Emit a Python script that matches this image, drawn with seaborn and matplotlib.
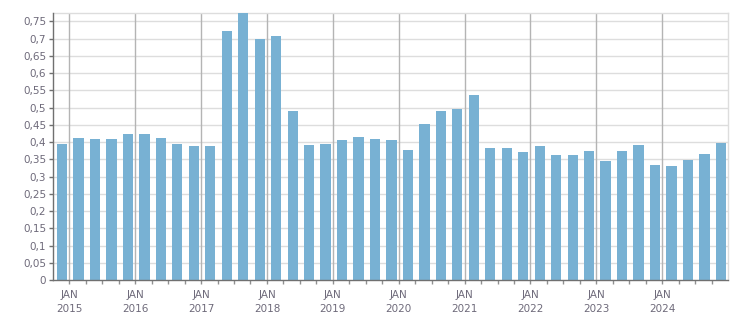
import matplotlib
matplotlib.use("Agg")
import matplotlib.pyplot as plt
import seaborn as sns
import pandas as pd

quarters = ["2014-Q4"] + [f"{y}-Q{q}" for y in range(2015, 2025) for q in range(1, 5)]
values = [0.395, 0.412, 0.409, 0.409, 0.424, 0.424, 0.412, 0.395, 0.389, 0.389,
          0.722, 0.776, 0.699, 0.708, 0.490, 0.392, 0.395, 0.406, 0.415, 0.409,
          0.406, 0.377, 0.453, 0.490, 0.497, 0.537, 0.383, 0.383, 0.371, 0.389,
          0.363, 0.363, 0.374, 0.345, 0.374, 0.392, 0.334, 0.331, 0.348, 0.366,
          0.398]
years = list(range(2015, 2025))
yticks = [0, 0.05, 0.1, 0.15, 0.2, 0.25, 0.3, 0.35, 0.4, 0.45, 0.5, 0.55, 0.6, 0.65, 0.7, 0.75]

df = pd.DataFrame({"quarter": quarters, "value": values})

sns.set_theme(style="white")
plt.rcParams['font.family'] = ['DejaVu Sans']

W, H = 751, 313
fig = plt.figure(figsize=(W / 100, H / 100), dpi=100)
ax = fig.add_axes([53 / W, (H - 280.3) / H, (728.3 - 53) / W, (280.3 - 13.3) / H])

sns.barplot(data=df, x="quarter", y="value", color="#78B1D3", saturation=1,
            width=0.62, ax=ax, edgecolor="none", linewidth=0)
for p in ax.patches:
    p.set_zorder(3)
    p.set_edgecolor("none")

ax.set_xlim(-0.55, 40.45)
ax.set_ylim(0, 0.773)

# y grid
ax.set_yticks(yticks)
ax.set_yticklabels([("%g" % v).replace(".", ",") for v in yticks])
for v in yticks[1:]:
    ax.axhline(v, color="#DDDDDD", lw=1, zorder=1)

# x ticks: JAN of each year
off = 0.44
major = [4 * (y - 2015) + off for y in years]
minor = [m + k for m in major for k in (1, 2, 3)]
ax.set_xticks(major)
ax.set_xticklabels([f"JAN\n{y}" for y in years])
ax.set_xticks(minor, minor=True)
for m in major:
    ax.axvline(m, color="#B4B4B4", lw=1, zorder=2)

ax.tick_params(axis="y", which="major", length=3, width=1, color="#707070",
               labelsize=7.5, labelcolor="#6E6A7A", pad=2, left=True)
ax.tick_params(axis="x", which="major", length=3, width=1, color="#909090",
               labelsize=7.5, labelcolor="#6E6A7A", pad=4, bottom=True)
ax.tick_params(axis="x", which="minor", length=3, width=1, color="#909090", bottom=True)
for lab in ax.get_xticklabels():
    lab.set_linespacing(1.5)

ax.set_xlabel("")
ax.set_ylabel("")
for side in ["left", "bottom"]:
    ax.spines[side].set_color("#707070")
    ax.spines[side].set_linewidth(1)
    ax.spines[side].set_zorder(4)
for side in ["top", "right"]:
    ax.spines[side].set_color("#DDDDDD")
    ax.spines[side].set_linewidth(1)
ax.set_facecolor("white")
fig.patch.set_facecolor("white")

fig.savefig("out.png", dpi=100)
